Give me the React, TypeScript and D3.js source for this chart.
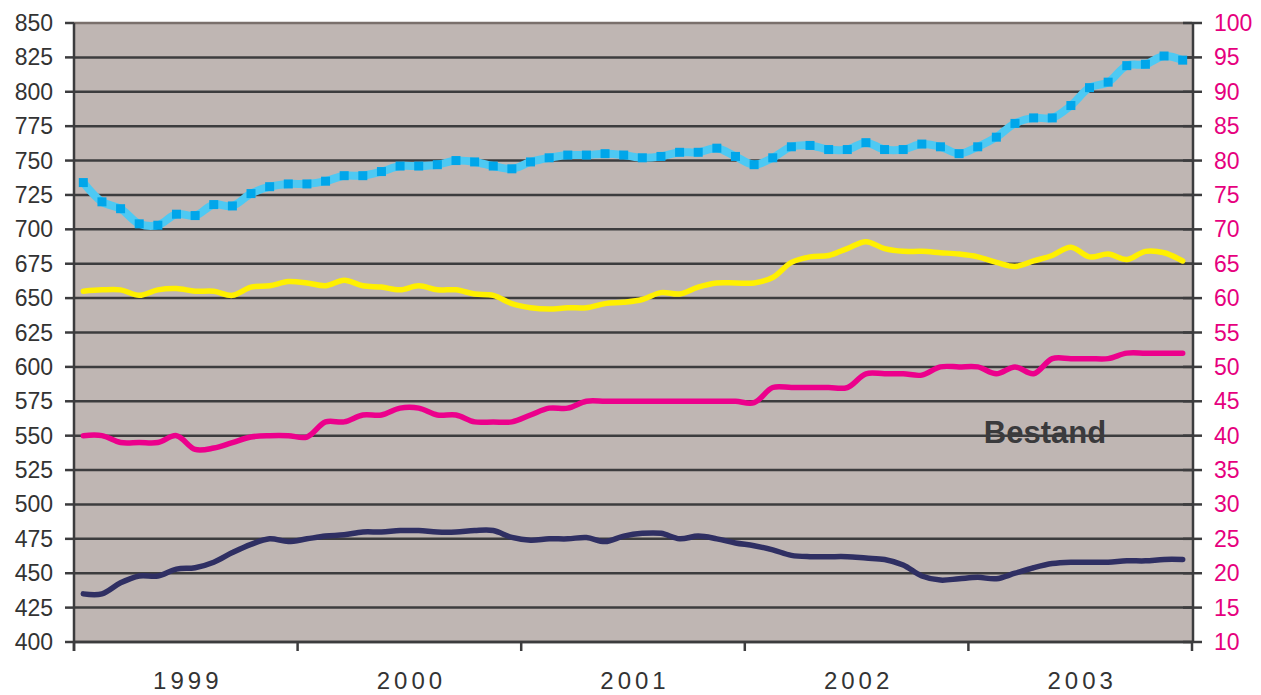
import React from "react";
import * as d3 from "d3";

const years = ["1999", "2000", "2001", "2002", "2003"];
const months = d3.range(60).map((i) => `${years[Math.floor(i / 12)]}-${(i % 12) + 1}`);

const blueSeries = [
  734, 720, 715, 704, 703, 711, 710, 718, 717, 726, 731, 733,
  733, 735, 739, 739, 742, 746, 746, 747, 750, 749, 746, 744,
  749, 752, 754, 754, 755, 754, 752, 753, 756, 756, 759, 753,
  747, 752, 760, 761, 758, 758, 763, 758, 758, 762, 760, 755,
  760, 767, 777, 781, 781, 790, 803, 807, 819, 820, 826, 823,
];
const yellowSeries = [
  655, 656, 656, 652, 656, 657, 655, 655, 652, 658, 659, 662,
  661, 659, 663, 659, 658, 656, 659, 656, 656, 653, 652, 646,
  643, 642, 643, 643, 646, 647, 649, 654, 653, 658, 661, 661,
  661, 665, 676, 680, 681, 686, 691, 686, 684, 684, 683, 682,
  680, 676, 673, 677, 681, 687, 680, 682, 678, 684, 683, 677,
];
const magentaSeries = [
  550, 550, 545, 545, 545, 550, 540, 541, 545, 549, 550, 550,
  549, 560, 560, 565, 565, 570, 570, 565, 565, 560, 560, 560,
  565, 570, 570, 575, 575, 575, 575, 575, 575, 575, 575, 575,
  574, 585, 585, 585, 585, 585, 595, 595, 595, 594, 600, 600,
  600, 595, 600, 595, 606, 606, 606, 606, 610, 610, 610, 610,
];
const navySeries = [
  435, 435, 443, 448, 448, 453, 454, 458, 465, 471, 475, 473,
  475, 477, 478, 480, 480, 481, 481, 480, 480, 481, 481, 476,
  474, 475, 475, 476, 473, 477, 479, 479, 475, 477, 475, 472,
  470, 467, 463, 462, 462, 462, 461, 460, 456, 448, 445, 446,
  447, 446, 450, 454, 457, 458, 458, 458, 459, 459, 460, 460,
];
const leftTicks = d3.range(400, 851, 25);
const rightTicks = d3.range(10, 101, 5);
const annotation = "Bestand";

const W = 1261;
const H = 695;
const plot = { left: 74, right: 1192, top: 23, bottom: 642 };
const FONT = "'Liberation Sans', Arial, sans-serif";

export default function App() {
  const x = d3.scaleBand<string>().domain(months).range([plot.left, plot.right]).padding(0);
  const xYear = d3.scaleBand<string>().domain(years).range([plot.left, plot.right]).padding(0);
  const y = d3.scaleLinear().domain([400, 850]).range([plot.bottom, plot.top]);
  const yR = d3.scaleLinear().domain([10, 100]).range([plot.bottom, plot.top]);
  const cx = (i: number) => (x(months[i]) as number) + x.bandwidth() / 2;

  const line = d3
    .line<number>()
    .x((_, i) => cx(i))
    .y((d) => y(d))
    .curve(d3.curveCatmullRom.alpha(0.5));

  const yearBounds = years.map((yr) => xYear(yr) as number).concat([plot.right]);

  return (
    <svg width={W} height={H} style={{ position: "absolute", left: 0, top: 0, background: "#fff" }}>
      <rect x={plot.left} y={plot.top} width={plot.right - plot.left} height={plot.bottom - plot.top} fill="#BFB6B3" />
      <text x={1045} y={443} textAnchor="middle" fontFamily={FONT} fontWeight="bold" fontSize={31} fill="#3A3A3C">
        {annotation}
      </text>
      {leftTicks.map((t) => (
        <line key={"g" + t} x1={plot.left} x2={plot.right} y1={y(t)} y2={y(t)} stroke={t === 850 ? "#7A706C" : "#3C3C3E"} strokeWidth={2.5} />
      ))}
      {/* left axis */}
      <line x1={plot.left} x2={plot.left} y1={plot.top} y2={plot.bottom + 9} stroke="#3C3C3E" strokeWidth={2.5} />
      {leftTicks.map((t) => (
        <g key={"l" + t}>
          <line x1={plot.left - 9} x2={plot.left} y1={y(t)} y2={y(t)} stroke="#3C3C3E" strokeWidth={2.5} />
          <text x={plot.left - 21} y={y(t) + 8} textAnchor="end" fontFamily={FONT} fontSize={23} fill="#333">
            {t}
          </text>
        </g>
      ))}
      {/* right axis */}
      <line x1={plot.right + 1} x2={plot.right + 1} y1={plot.top} y2={plot.bottom} stroke="#3C3C3E" strokeWidth={2.5} />
      {rightTicks.map((t) => (
        <g key={"r" + t}>
          <line x1={plot.right - 9} x2={plot.right + 10} y1={yR(t)} y2={yR(t)} stroke="#3C3C3E" strokeWidth={2.5} />
          <text x={plot.right + 22} y={yR(t) + 8} textAnchor="start" fontFamily={FONT} fontSize={23} fill="#E6007E">
            {t}
          </text>
        </g>
      ))}
      {/* bottom axis */}
      <line x1={plot.left} x2={plot.right} y1={plot.bottom} y2={plot.bottom} stroke="#3C3C3E" strokeWidth={2.5} />
      {yearBounds.map((b, i) => (
        <line key={"yt" + i} x1={b} x2={b} y1={plot.bottom} y2={plot.bottom + 9} stroke="#3C3C3E" strokeWidth={2.5} />
      ))}
      {years.map((yr) => (
        <text
          key={yr}
          x={(xYear(yr) as number) + xYear.bandwidth() / 2 + 2}
          y={689}
          textAnchor="middle"
          fontFamily={FONT}
          fontSize={24}
          letterSpacing={4}
          fill="#333"
        >
          {yr}
        </text>
      ))}
      {/* series */}
      <path d={line(navySeries) || ""} fill="none" stroke="#2F2F63" strokeWidth={5.5} strokeLinejoin="round" strokeLinecap="round" />
      <path d={line(magentaSeries) || ""} fill="none" stroke="#EC008C" strokeWidth={5.5} strokeLinejoin="round" strokeLinecap="round" />
      <path d={line(yellowSeries) || ""} fill="none" stroke="#FFF000" strokeWidth={5.5} strokeLinejoin="round" strokeLinecap="round" />
      <path d={line(blueSeries) || ""} fill="none" stroke="#4DC9F3" strokeWidth={8} strokeLinejoin="round" />
      {blueSeries.map((v, i) => (
        <rect key={"m" + i} x={cx(i) - 4.5} y={y(v) - 4.5} width={9} height={9} fill="#00A6EA" />
      ))}
    </svg>
  );
}
